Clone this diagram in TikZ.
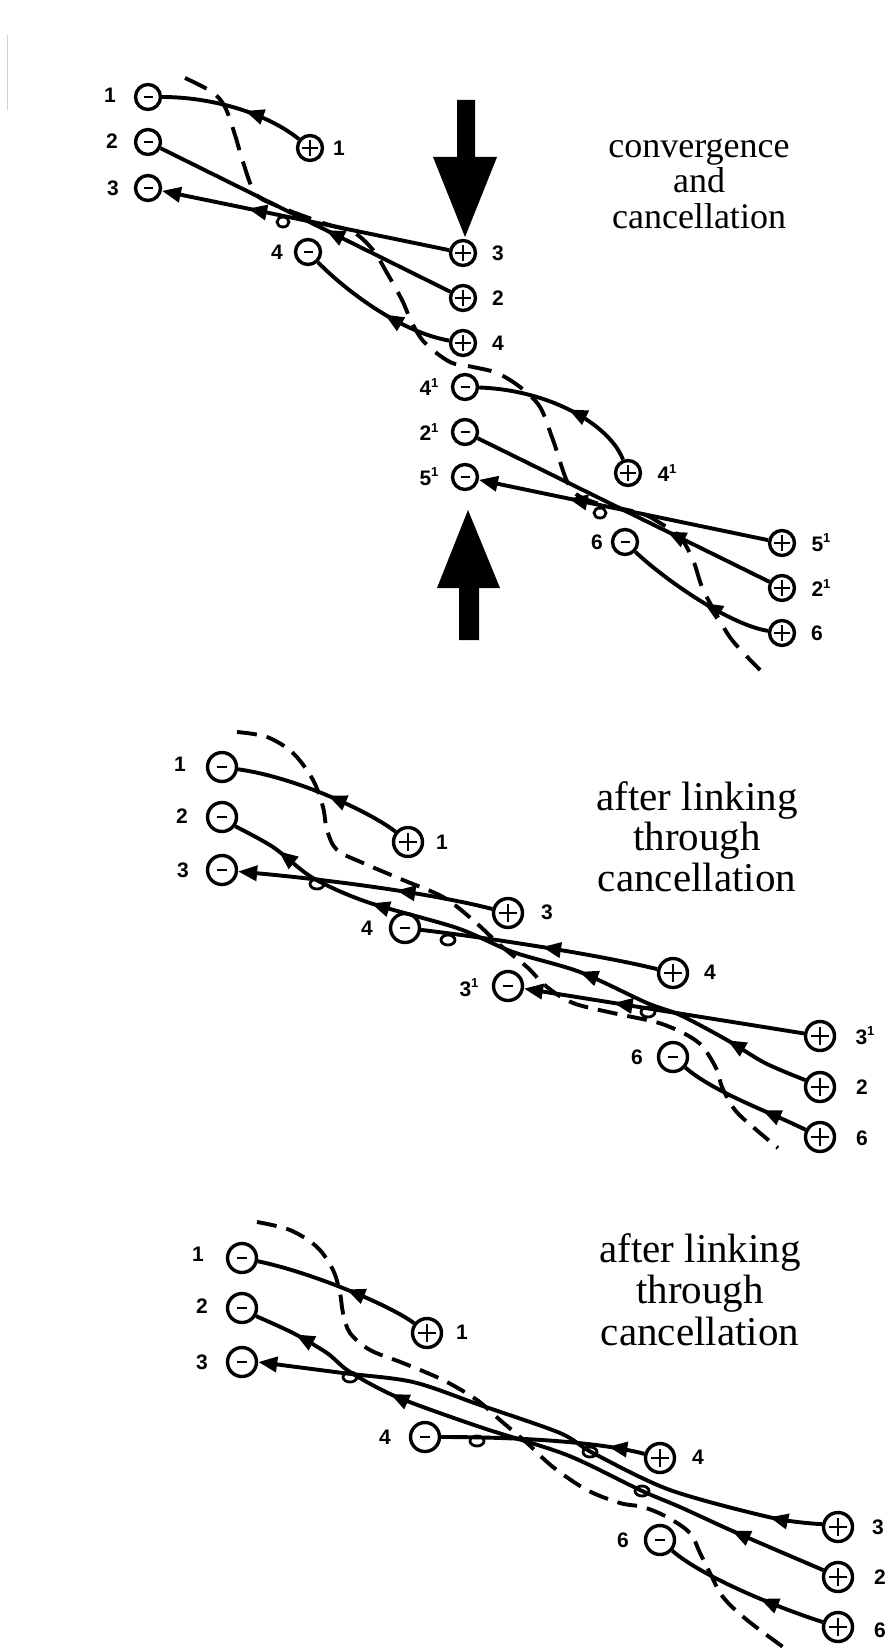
\documentclass[tikz,border=0pt]{standalone}
\usepackage{fontspec}
\setmainfont{Liberation Serif}
\newfontfamily\labfont{Liberation Sans}
\usetikzlibrary{arrows.meta,decorations.markings,calc}
\newcommand\prm{\raisebox{0.42em}{\fontsize{13}{13}\selectfont 1}}
\tikzset{
 sym/.style={circle,draw,fill=white,line width=3.4pt,inner sep=0pt,minimum size=#1},
 negA/.style={sym=25pt,path picture={\draw[line width=1.9pt] ([xshift=-4.5pt]path picture bounding box.center) -- ([xshift=4.5pt]path picture bounding box.center);}},
 posA/.style={sym=25pt,path picture={\draw[line width=1.9pt] ([xshift=-8pt]path picture bounding box.center) -- ([xshift=8pt]path picture bounding box.center) ([yshift=-8pt]path picture bounding box.center) -- ([yshift=8pt]path picture bounding box.center);}},
 negB/.style={sym=29pt,path picture={\draw[line width=1.9pt] ([xshift=-5pt]path picture bounding box.center) -- ([xshift=5pt]path picture bounding box.center);}},
 posB/.style={sym=29pt,path picture={\draw[line width=1.9pt] ([xshift=-9pt]path picture bounding box.center) -- ([xshift=9pt]path picture bounding box.center) ([yshift=-9pt]path picture bounding box.center) -- ([yshift=9pt]path picture bounding box.center);}},
 lbl/.style={font=\labfont\bfseries\fontsize{21}{21}\selectfont,inner sep=0pt},
 ttlA/.style={font=\fontsize{36}{36}\selectfont,anchor=base,inner sep=0pt},
 ttlB/.style={font=\fontsize{41}{41}\selectfont,anchor=base,inner sep=0pt},
 fl/.style={line width=3.9pt},
 dshA/.style={line width=3.9pt,dash pattern=on 24pt off 12pt},
 dshB/.style={line width=3.9pt,dash pattern=on 20pt off 10pt},
 am/.style={postaction={decorate,decoration={markings,mark=at position #1 with {\arrow{Triangle[length=19pt,width=15pt]}}}}},
 ae/.style={-{Triangle[length=19pt,width=15pt]}},
 lp/.style={line width=2.8pt},
 bigarrow/.style={fill=black}
}
\begin{document}
\begin{tikzpicture}[x=1pt,y=-1pt]
\useasboundingbox (0,0) rectangle (888,1648);
\fill[white] (0,0) rectangle (888,1648);
\draw[gray!35,line width=1pt] (7,35) -- (7,110);

% ---------------- Panel 1 ----------------
\fill[bigarrow] (457,100) -- (475,100) -- (475,157) -- (497,157) -- (465,237) -- (433,157) -- (457,157) -- cycle;
\fill[bigarrow] (459,640) -- (479,640) -- (479,588) -- (500,588) -- (468,510) -- (437,588) -- (459,588) -- cycle;

\draw[dshA] plot[smooth,tension=0.55] coordinates {(185,78) (212,92) (225,107) (235,135) (243,162) (255,193) (275,205) (323,223) (353,232) (373,250) (387,273) (402,300) (412,323) (425,343) (450,362) (473,367) (497,373) (520,387) (540,407) (553,440) (570,487) (593,502) (640,513) (660,523) (680,537) (693,560) (702,587) (715,612) (732,640) (760,670)};

\node[negA] (Am1) at (148,97) {};
\node[negA] (Am2) at (148,142) {};
\node[negA] (Am3) at (148,188) {};
\node[posA] (Ap1) at (310,148) {};
\node[negA] (Am4) at (308,252) {};
\node[posA] (Ap3) at (463,253) {};
\node[posA] (Ap2) at (463,298) {};
\node[posA] (Ap4) at (463,343) {};
\node[negA] (Am4x) at (465,387) {};
\node[negA] (Am2x) at (465,432) {};
\node[negA] (Am5x) at (465,477) {};
\node[posA] (Ap4x) at (628,473) {};
\node[negA] (Am6) at (625,542) {};
\node[posA] (Ap5x) at (782,543) {};
\node[posA] (Ap2x) at (782,588) {};
\node[posA] (Ap6) at (782,633) {};

\node[lbl] (LAm1) at (110,95) {1};
\node[lbl] (LAm2) at (112,141) {2};
\node[lbl] (LAm3) at (113,188) {3};
\node[lbl] (LAp1) at (339,148) {1};
\node[lbl] (LAm4) at (277,252) {4};
\node[lbl] (LAp3) at (498,253) {3};
\node[lbl] (LAp2) at (498,298) {2};
\node[lbl] (LAp4) at (498,343) {4};
\node[lbl] (LAm4x) at (429,387) {4\prm};
\node[lbl] (LAm2x) at (429,432) {2\prm};
\node[lbl] (LAm5x) at (429,477) {5\prm};
\node[lbl] (LAp4x) at (667,473) {4\prm};
\node[lbl] (LAm6) at (597,542) {6};
\node[lbl] (LAp5x) at (821,543) {5\prm};
\node[lbl] (LAp2x) at (821,588) {2\prm};
\node[lbl] (LAp6) at (817,633) {6};

\draw[fl,am=0.42] (Ap1) .. controls (265,112) and (210,97) .. (Am1);
\draw[fl,am=0.43] (Ap2) -- (Am2);
\draw[fl,ae,am=0.7] (Ap3) -- (Am3);
\draw[fl,am=0.45] (Ap4) .. controls (400,332) and (345,290) .. (Am4);
\draw[fl,am=0.45] (Ap4x) .. controls (610,425) and (550,390) .. (Am4x);
\draw[fl,am=0.35] (Ap2x) -- (Am2x);
\draw[fl,ae,am=0.69] (Ap5x) -- (Am5x);
\draw[fl,am=0.45] (Ap6) .. controls (730,625) and (665,580) .. (Am6);
\draw[lp] (283,222) ellipse [x radius=6,y radius=5];
\draw[lp] (600,513) ellipse [x radius=6,y radius=5];

\node[ttlA] (TA1) at (699,158) {convergence};
\node[ttlA] (TA2) at (699,193) {and};
\node[ttlA] (TA3) at (699,228) {cancellation};

% ---------------- Panel 2 ----------------
\draw[dshB] plot[smooth,tension=0.55] coordinates {(237,732) (267,737) (293,753) (313,780) (323,807) (327,830) (337,850) (363,863) (403,880) (443,897) (473,920) (500,945) (527,967) (547,987) (573,1003) (613,1013) (647,1020) (665,1025) (687,1035) (703,1047) (717,1070) (722,1087) (735,1110) (753,1127) (778,1148)};

\node[negB] (Bm1) at (222,767) {};
\node[negB] (Bm2) at (222,817) {};
\node[negB] (Bm3) at (222,870) {};
\node[posB] (Bp1) at (408,842) {};
\node[posB] (Bp3) at (508,913) {};
\node[negB] (Bm4) at (405,928) {};
\node[negB] (Bm3x) at (508,986) {};
\node[posB] (Bp4) at (673,973) {};
\node[negB] (Bm6) at (673,1057) {};
\node[posB] (Bp3x) at (820,1036) {};
\node[posB] (Bp2) at (820,1087) {};
\node[posB] (Bp6) at (820,1137) {};

\node[lbl] (LBm1) at (180,764) {1};
\node[lbl] (LBm2) at (182,816) {2};
\node[lbl] (LBm3) at (183,870) {3};
\node[lbl] (LBp1) at (442,842) {1};
\node[lbl] (LBp3) at (547,912) {3};
\node[lbl] (LBm4) at (367,928) {4};
\node[lbl] (LBm3x) at (469,988) {3\prm};
\node[lbl] (LBp4) at (710,972) {4};
\node[lbl] (LBm6) at (637,1057) {6};
\node[lbl] (LBp3x) at (865,1036) {3\prm};
\node[lbl] (LBp2) at (862,1087) {2};
\node[lbl] (LBp6) at (862,1138) {6};

\draw[fl,am=0.45] (Bp1) .. controls (375,815) and (300,778) .. (Bm1);
\draw[fl,ae,am=0.38] (Bp3) .. controls (430,893) and (330,880) .. (Bm3);
\draw[fl,am=0.14,am=0.40,am=0.75,am=0.92] plot[smooth,tension=0.5] coordinates {(Bp2.155) (765,1063) (727,1040) (680,1015) (647,1003) (580,972) (513,952) (457,928) (367,902) (313,878) (273,847) (Bm2.-35)};
\draw[fl,am=0.49] (Bp4) .. controls (600,955) and (490,938) .. (Bm4);
\draw[fl,ae,am=0.68] (Bp3x) -- (Bm3x);
\draw[fl,am=0.35] (Bp6) .. controls (770,1112) and (715,1093) .. (Bm6);
\draw[lp] (317,884) ellipse [x radius=7,y radius=5];
\draw[lp] (448,940) ellipse [x radius=7,y radius=5];
\draw[lp] (648,1012) ellipse [x radius=7,y radius=5];

\node[ttlB] (TB1) at (697,810) {after linking};
\node[ttlB] (TB2) at (697,850) {through};
\node[ttlB] (TB3) at (697,891) {cancellation};

% ---------------- Panel 3 ----------------
\draw[dshB] plot[smooth,tension=0.55] coordinates {(257,1222) (290,1230) (317,1247) (333,1270) (340,1293) (343,1313) (350,1333) (370,1350) (403,1363) (443,1380) (477,1400) (500,1420) (527,1443) (553,1467) (587,1490) (620,1503) (643,1507) (667,1517) (690,1533) (700,1553) (710,1573) (723,1597) (747,1620) (790,1652)};

\node[negB] (Cm1) at (242,1258) {};
\node[negB] (Cm2) at (242,1308) {};
\node[negB] (Cm3) at (242,1362) {};
\node[posB] (Cp1) at (427,1333) {};
\node[negB] (Cm4) at (425,1437) {};
\node[posB] (Cp4) at (660,1458) {};
\node[negB] (Cm6) at (660,1540) {};
\node[posB] (Cp3) at (838,1527) {};
\node[posB] (Cp2) at (838,1577) {};
\node[posB] (Cp6) at (838,1627) {};

\node[lbl] (LCm1) at (198,1254) {1};
\node[lbl] (LCm2) at (202,1306) {2};
\node[lbl] (LCm3) at (202,1362) {3};
\node[lbl] (LCp1) at (462,1332) {1};
\node[lbl] (LCm4) at (385,1437) {4};
\node[lbl] (LCp4) at (698,1457) {4};
\node[lbl] (LCm6) at (623,1540) {6};
\node[lbl] (LCp3) at (878,1527) {3};
\node[lbl] (LCp2) at (880,1577) {2};
\node[lbl] (LCp6) at (880,1630) {6};

\draw[fl,am=0.45] (Cp1) .. controls (390,1305) and (310,1272) .. (Cm1);
\draw[fl,am=0.16,am=0.75,am=0.93] plot[smooth,tension=0.5] coordinates {(Cp2.155) (737,1533) (680,1507) (640,1490) (567,1455) (480,1427) (397,1397) (350,1372) (327,1353) (293,1333) (Cm2.-30)};
\draw[fl,ae,am=0.09] plot[smooth,tension=0.5] coordinates {(Cp3.170) (773,1518) (670,1490) (593,1453) (560,1433) (480,1405) (413,1382) (343,1373) (Cm3.east)};
\draw[fl,am=0.18] (Cp4) .. controls (600,1442) and (520,1437) .. (Cm4);
\draw[fl,am=0.4] (Cp6) .. controls (770,1605) and (700,1575) .. (Cm6);
\draw[lp] (350,1377) ellipse [x radius=7,y radius=5];
\draw[lp] (477,1441) ellipse [x radius=7,y radius=5];
\draw[lp] (590,1452) ellipse [x radius=7,y radius=5];
\draw[lp] (642,1491) ellipse [x radius=7,y radius=5];

\node[ttlB] (TC1) at (700,1262) {after linking};
\node[ttlB] (TC2) at (700,1303) {through};
\node[ttlB] (TC3) at (700,1345) {cancellation};
\end{tikzpicture}
\end{document}
